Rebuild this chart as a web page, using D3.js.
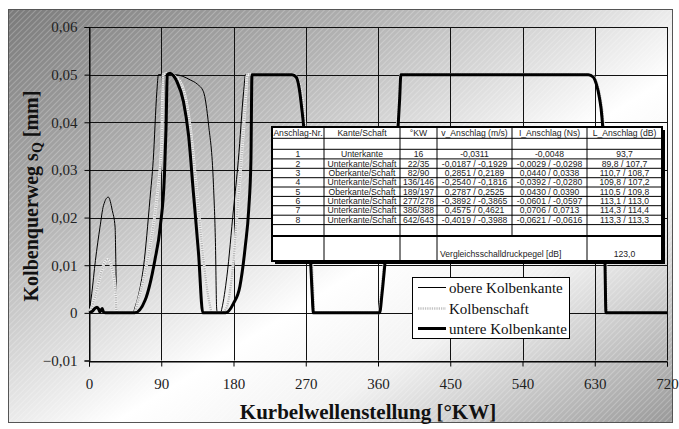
<!DOCTYPE html>
<html><head><meta charset="utf-8">
<script src="https://cdn.jsdelivr.net/npm/d3@7"></script>
<style>body{margin:0;background:#fff}svg{display:block}</style>
</head><body><svg id="c" width="679" height="429"></svg>
<script>
// ---------- data ----------
const xTicks = [0, 90, 180, 270, 360, 450, 540, 630, 720];
const yTicks = [-0.01, 0, 0.01, 0.02, 0.03, 0.04, 0.05, 0.06];
const seriesNames = ["obere Kolbenkante", "Kolbenschaft", "untere Kolbenkante"];

const kwOben = [0,3.4,8,13.7,18,24,29,32.5,33.5,34.6,55,57,62,68,76,80,84.5,86.5,107,116,126,135,142.6,149,155,157.5,159,160,164,165.6,171.8,180,186,192.6,195,252.5,257.5,261.5,264.5,267,270.5,273.5,275.5,277.5,279,361.5,364.5,368.5,374.5,380.5,384.5,386.5,388,621.5,627.5,631.5,635.5,638.5,640.5,641.5,642.5,643.5,720];
const sOben  = [0,0.004,0.011,0.018,0.0225,0.0243,0.0215,0.018,0.01,0,0,0.001,0.004,0.0098,0.024,0.032,0.0464,0.05,0.05,0.0497,0.0489,0.048,0.0464,0.0394,0.027,0.0147,0.001,0,0,0.001,0.0077,0.0218,0.032,0.0464,0.05,0.05,0.0495,0.047,0.043,0.039,0.03,0.02,0.011,0.004,0,0,0.004,0.011,0.022,0.032,0.039,0.045,0.05,0.05,0.0495,0.048,0.045,0.041,0.035,0.02,0.008,0,0];

const kwSchaft = [0,3,7.5,13.8,18,23,28,32.6,34.6,56,61.6,68,76,84.5,90.7,92,100,108,115.7,121,126,134.4,142.7,148,151,153,166,171.8,176,180,186,192.7,195.5,197,255,260,264,267,270,273,276,278.5,280.5,361,364,368,374,380,384,386.5,388,623,629,633,637,640,642,643,644,645,720];
const sSchaft  = [0,0.001,0.0034,0.0076,0.010,0.0112,0.0097,0.0055,0,0,0.0027,0.007,0.014,0.024,0.036,0.05,0.0503,0.0495,0.0478,0.0445,0.039,0.0253,0.011,0.004,0.0013,0,0,0.0013,0.005,0.011,0.024,0.039,0.046,0.05,0.05,0.049,0.0465,0.043,0.037,0.028,0.017,0.007,0,0,0.004,0.011,0.022,0.032,0.039,0.045,0.05,0.05,0.0495,0.048,0.045,0.041,0.035,0.02,0.008,0,0];

const kwUnten = [0,4,7,10,12,13.5,15,16.5,18,20,57,70,82,88.7,94,96,97.5,101,105,109.4,117.7,124,130,136.4,141.8,170,180,188,194.7,199,201.7,203,253,258,262,265,267.5,271,274,276,278,279.5,362,365,369,375,381,385,387,388.5,622,628,632,636,639,641,642,643,644,720];
const sUnten  = [0,0.0003,0.0009,0.0012,0.0008,0.0002,0.0006,0.0009,0.0002,0,0,0.0027,0.011,0.018,0.029,0.039,0.05,0.0503,0.0498,0.0486,0.0443,0.0373,0.0253,0.0126,0,0,0.002,0.0056,0.014,0.0218,0.032,0.05,0.05,0.0495,0.047,0.043,0.039,0.03,0.02,0.011,0.004,0,0,0.004,0.011,0.022,0.032,0.039,0.045,0.05,0.05,0.0495,0.048,0.045,0.041,0.035,0.02,0.008,0,0];

const tableHeader = ["Anschlag-Nr.", "Kante/Schaft", "°KW", "v_Anschlag (m/s)", "I_Anschlag (Ns)", "L_Anschlag (dB)"];
const colNr     = ["1","2","3","4","5","6","7","8"];
const colKante  = ["Unterkante","Unterkante/Schaft","Oberkante/Schaft","Unterkante/Schaft","Oberkante/Schaft","Unterkante/Schaft","Unterkante/Schaft","Unterkante/Schaft"];
const colKW     = ["16","22/35","82/90","136/146","189/197","277/278","386/388","642/643"];
const colV      = ["-0,0311","-0,0187 / -0,1929","0,2851 / 0,2189","-0,2540 / -0,1816","0,2787 / 0,2525","-0,3892 / -0,3865","0,4575 / 0,4621","-0,4019 / -0,3988"];
const colI      = ["-0,0048","-0,0029 / -0,0298","0,0440 / 0,0338","-0,0392 / -0,0280","0,0430 / 0,0390","-0,0601 / -0,0597","0,0706 / 0,0713","-0,0621 / -0,0616"];
const colL      = ["93,7","89,8 / 107,7","110,7 / 108,7","109,8 / 107,2","110,5 / 109,8","113,1 / 113,0","114,3 / 114,4","113,3 / 113,3"];
const vergleichLabel = "Vergleichsschalldruckpegel [dB]";
const vergleichValue = "123,0";

// ---------- drawing ----------
const SERIF = "'Liberation Serif', 'Times New Roman', serif";
const svg = d3.select("#c");
const defs = svg.append("defs");
const grad = defs.append("linearGradient").attr("id","bg").attr("x1",0).attr("y1",0).attr("x2",1).attr("y2",1);
[[0,"#7a7a7a"],[0.28,"#b2b2b2"],[0.58,"#ffffff"],[0.72,"#f2f2f2"],[1,"#999999"]].forEach(s=>grad.append("stop").attr("offset",s[0]).attr("stop-color",s[1]));
const pat = defs.append("pattern").attr("id","hatch").attr("patternUnits","userSpaceOnUse").attr("width",4).attr("height",4).attr("patternTransform","rotate(45)");
pat.append("line").attr("x1",0).attr("y1",0).attr("x2",0).attr("y2",4).attr("stroke","#fff").attr("stroke-width",1.3).attr("stroke-opacity",0.35);

svg.append("rect").attr("x",8.5).attr("y",9.5).attr("width",664).attr("height",413).attr("fill","url(#bg)");
svg.append("rect").attr("x",8.5).attr("y",9.5).attr("width",664).attr("height",413).attr("fill","url(#hatch)").attr("stroke","#555").attr("stroke-width",1);

const x = d3.scaleLinear().domain([0,720]).range([89,667]);
const y = d3.scaleLinear().domain([-0.01,0.06]).range([360.5,27]);

// grid
const grid = svg.append("g").attr("stroke","#111").attr("stroke-width",1);
yTicks.forEach(t=>grid.append("line").attr("x1",x(0)).attr("x2",x(720)).attr("y1",Math.round(y(t))+0.5).attr("y2",Math.round(y(t))+0.5));
xTicks.forEach(t=>grid.append("line").attr("y1",y(0.06)).attr("y2",y(-0.01)).attr("x1",Math.round(x(t))+0.5).attr("x2",Math.round(x(t))+0.5));

const fmt = d => d === 0 ? "0" : d3.format(".2f")(d).replace(".", ",");
const ya = svg.append("g").attr("transform",`translate(${Math.round(x(0))+0.5},0)`)
  .call(d3.axisLeft(y).tickValues(yTicks).tickSize(5).tickPadding(7).tickFormat(fmt));
const xa = svg.append("g").attr("transform",`translate(0,${Math.round(y(-0.01))+0.5})`)
  .call(d3.axisBottom(x).tickValues(xTicks).tickSize(5).tickPadding(12).tickFormat(d3.format("d")));
[ya,xa].forEach(a=>{
  a.attr("font-family",SERIF).attr("font-size",15);
  a.select(".domain").attr("stroke","#000");
  a.selectAll(".tick line").attr("stroke","#000");
  a.selectAll("text").attr("fill","#222");
});

// lines
const line = d3.line().x(d=>x(d[0])).y(d=>y(d[1])).curve(d3.curveMonotoneX);
const zip = (a,b)=>a.map((v,i)=>[v,b[i]]);
const plot = svg.append("g");
plot.append("path").datum(zip(kwOben,sOben)).attr("d",line).attr("fill","none").attr("stroke","#000").attr("stroke-width",1);
plot.append("path").datum(zip(kwSchaft,sSchaft)).attr("d",line).attr("fill","none").attr("stroke","#f4f4f4").attr("stroke-width",2.8);
plot.append("path").datum(zip(kwSchaft,sSchaft)).attr("d",line).attr("fill","none").attr("stroke","#b8b8b8").attr("stroke-width",2.4).attr("stroke-dasharray","1.3 1");
plot.append("path").datum(zip(kwUnten,sUnten)).attr("d",line).attr("fill","none").attr("stroke","#000").attr("stroke-width",3).attr("stroke-linejoin","round");

// table
const cx = [272,324,400,437,512,587,662];
const ry = [127,138.3,149.3,158.9,168.3,177.7,187,196.4,205.7,215.2,224.6,236,261];
const tb = svg.append("g").attr("font-family","'Liberation Sans', Arial, sans-serif").attr("font-size",8.6).attr("fill","#222");
tb.append("rect").attr("x",cx[0]+3).attr("y",ry[0]+3).attr("width",cx[6]-cx[0]).attr("height",ry[12]-ry[0]).attr("fill","#000");
tb.append("rect").attr("x",cx[0]).attr("y",ry[0]).attr("width",cx[6]-cx[0]).attr("height",ry[12]-ry[0]).attr("fill","#fff");
const tl = tb.append("g").attr("stroke","#000").attr("stroke-width",1);
ry.slice(1,12).forEach((yy,i)=>tl.append("line").attr("x1",cx[0]).attr("x2",cx[6]).attr("y1",yy).attr("y2",yy).attr("stroke-width", i===10 ? 2 : 1));
cx.slice(1,6).forEach(xx=>{
  if (xx===512) { tl.append("line").attr("x1",xx).attr("x2",xx).attr("y1",ry[0]).attr("y2",ry[11]); }
  else tl.append("line").attr("x1",xx).attr("x2",xx).attr("y1",ry[0]).attr("y2",ry[12]);
});
tb.append("rect").attr("x",cx[0]).attr("y",ry[0]).attr("width",cx[6]-cx[0]).attr("height",ry[12]-ry[0]).attr("fill","none").attr("stroke","#000").attr("stroke-width",2);
const mid = i => (cx[i]+cx[i+1])/2;
tableHeader.forEach((h,i)=>tb.append("text").attr("x",mid(i)).attr("y",ry[1]-2).attr("text-anchor","middle").text(h));
const cols = [colNr,colKante,colKW,colV,colI,colL];
cols.forEach((c,ci)=>c.forEach((v,ri)=>tb.append("text").attr("x",mid(ci)).attr("y",ry[ri+3]-1.8).attr("text-anchor","middle").text(v)));
tb.append("text").attr("x",cx[3]+3).attr("y",ry[12]-4).text(vergleichLabel);
tb.append("text").attr("x",mid(5)).attr("y",ry[12]-4).attr("text-anchor","middle").text(vergleichValue);

// legend
const lg = svg.append("g").attr("font-family",SERIF).attr("font-size",15).attr("fill","#111");
lg.append("rect").attr("x",412.5).attr("y",277.5).attr("width",157).attr("height",61).attr("fill","#fff").attr("stroke","#000");
const lstyles = [{w:1,c:"#000",d:null},{w:2.4,c:"#c4c4c4",d:"1.3 1"},{w:3,c:"#000",d:null}];
const ly = [287.5,308.5,328.5];
seriesNames.forEach((n,i)=>{
  const s = lstyles[i];
  lg.append("line").attr("x1",418).attr("x2",446).attr("y1",ly[i]).attr("y2",ly[i]).attr("stroke",s.c).attr("stroke-width",s.w).attr("stroke-dasharray",s.d);
  lg.append("text").attr("x",449).attr("y",ly[i]+5).text(n);
});

// titles
svg.append("text").attr("x",368).attr("y",419).attr("text-anchor","middle")
  .attr("font-family",SERIF).attr("font-weight","bold").attr("font-size",21).attr("fill","#111")
  .text("Kurbelwellenstellung [°KW]");
const yt = svg.append("text").attr("transform","translate(38,196) rotate(-90)").attr("text-anchor","middle")
  .attr("font-family",SERIF).attr("font-weight","bold").attr("font-size",20).attr("fill","#111");
yt.append("tspan").text("Kolbenquerweg s");
yt.append("tspan").attr("font-size",14).attr("dy",4).text("Q");
yt.append("tspan").attr("dy",-4).text(" [mm]");
</script></body></html>
